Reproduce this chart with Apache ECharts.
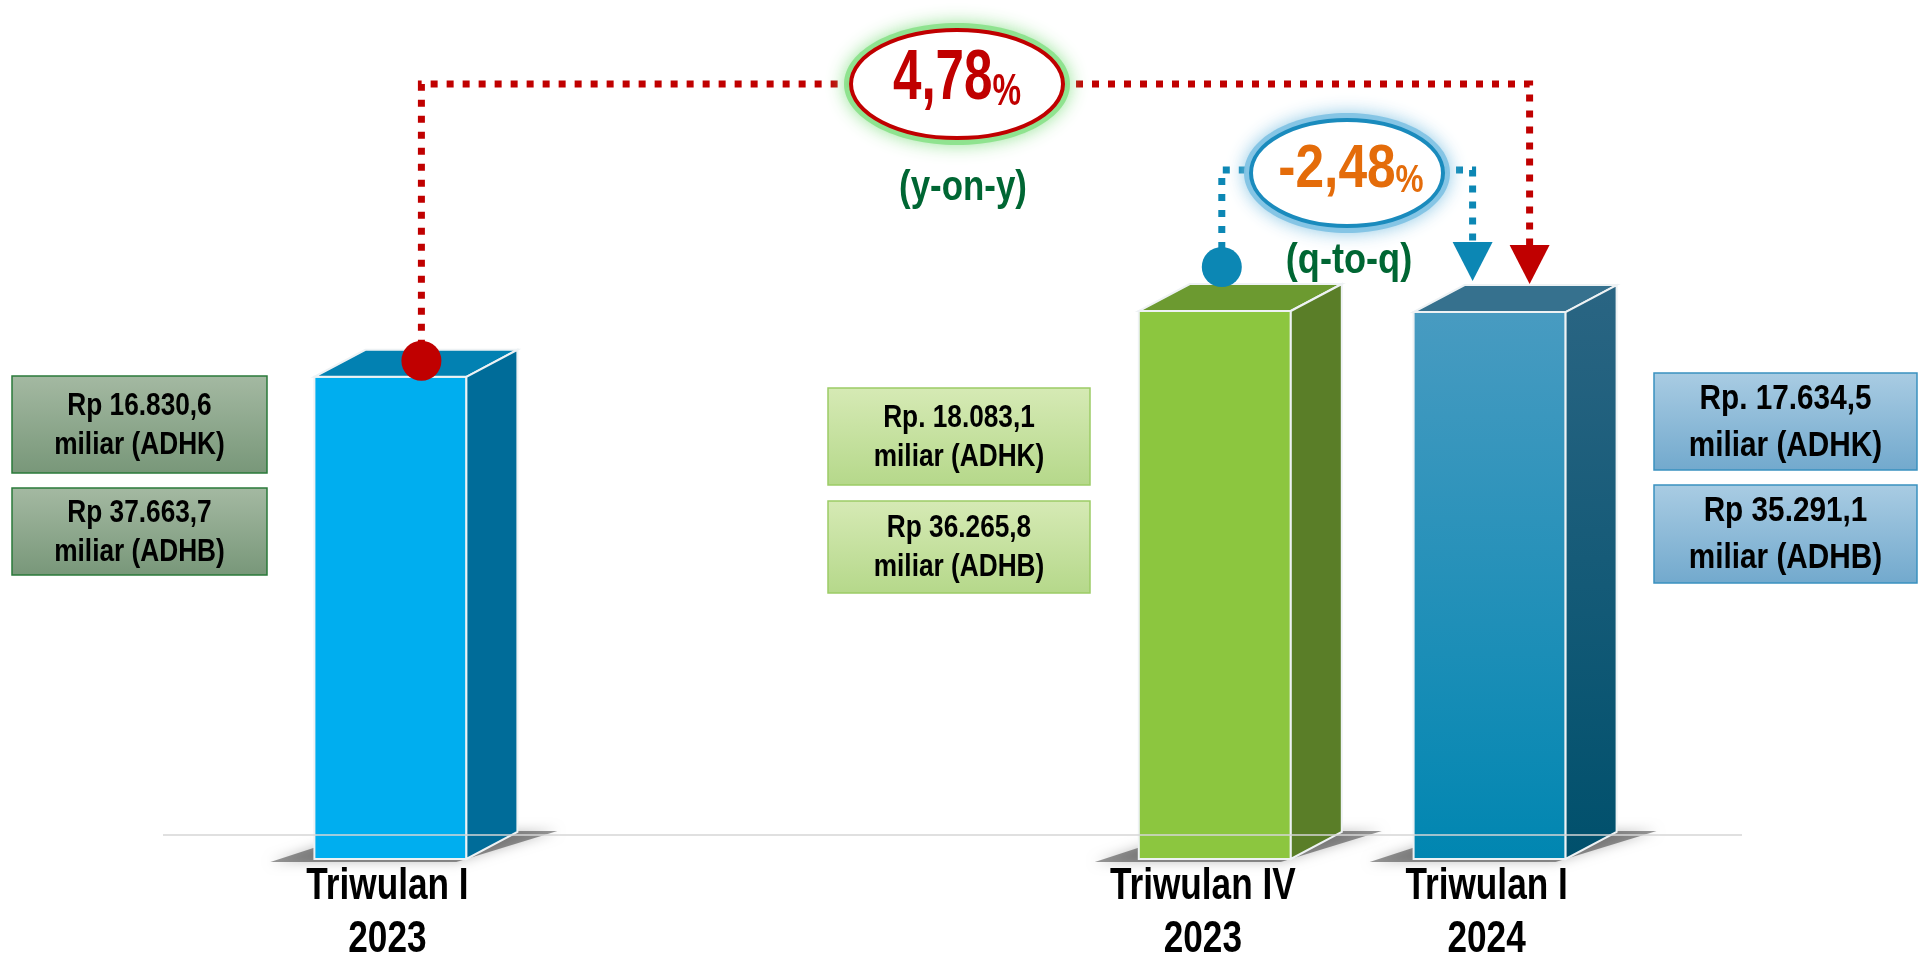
<!DOCTYPE html>
<html>
<head>
<meta charset="utf-8">
<title>PDRB Triwulan I 2024</title>
<script src="https://cdn.jsdelivr.net/npm/echarts@6/dist/echarts.min.js"></script>
<style>
  html, body { margin: 0; padding: 0; background: #fff; }
  #chart { width: 1921px; height: 955px; }
</style>
</head>
<body>
<div id="chart"></div>
<script>
// kategori (slot kosong = jarak antar batang)
const categories = ["Triwulan I\n2023", "", "", "Triwulan IV\n2023", "Triwulan I\n2024"];
// tinggi batang relatif (Triwulan IV 2023 = 100)
const barHeights = [88, null, null, 100, 99.8];
const adhkLabels = ["Rp 16.830,6\nmiliar (ADHK)", null, null, "Rp. 18.083,1\nmiliar (ADHK)", "Rp. 17.634,5\nmiliar (ADHK)"];
const adhbLabels = ["Rp 37.663,7\nmiliar (ADHB)", null, null, "Rp 36.265,8\nmiliar (ADHB)", "Rp 35.291,1\nmiliar (ADHB)"];
const yoyGrowth = "4,78";
const qtqGrowth = "-2,48";

// Liberation Sans dipersempit (scaleX) supaya mirip Arial Narrow
const FONT = "'Liberation Sans', Arial, sans-serif";
const BAR_W = 152, DX = 51, DY = -27;
const EDGE = "#eef2f4";

const barStyles = {
  0: { front: "#00aeef", top: "#0281b2", side: "#006c99" },
  3: { front: "#8cc63f", top: "#6c9a30", side: "#5a7e28" },
  4: {
    front: new echarts.graphic.LinearGradient(0, 0, 0, 1, [
      { offset: 0, color: "#489bc1" }, { offset: 1, color: "#0086b1" }]),
    top: "#36718e",
    side: new echarts.graphic.LinearGradient(0, 0, 0, 1, [
      { offset: 0, color: "#2a6583" }, { offset: 1, color: "#00506c" }])
  }
};

const barData = [];
barHeights.forEach((v, i) => { if (v != null) barData.push([i, v]); });

function renderBox(params, api) {
  const idx = api.value(0);
  const b = api.coord([idx, 0]);
  const t = api.coord([idx, api.value(1)]);
  const x0 = b[0] - BAR_W / 2, x1 = b[0] + BAR_W / 2;
  const yb = b[1], yt = t[1];
  const st = barStyles[idx];
  return {
    type: "group",
    children: [
      {
        type: "polygon",
        shape: { points: [[x0 - 44, yb + 3], [x1 - 10, yb + 3], [x1 + DX + 40, yb + DY - 1], [x0 + DX, yb + DY - 1]] },
        style: { fill: "rgba(0,0,0,0.4)", shadowBlur: 12, shadowColor: "rgba(0,0,0,0.6)" }
      },
      {
        type: "rect",
        shape: { x: x0, y: yt, width: BAR_W, height: yb - yt },
        style: { fill: st.front, stroke: EDGE, lineWidth: 2 }
      },
      {
        type: "polygon",
        shape: { points: [[x0, yt], [x1, yt], [x1 + DX, yt + DY], [x0 + DX, yt + DY]] },
        style: { fill: st.top, stroke: EDGE, lineWidth: 2 }
      },
      {
        type: "polygon",
        shape: { points: [[x1, yt], [x1 + DX, yt + DY], [x1 + DX, yb + DY], [x1, yb]] },
        style: { fill: st.side, stroke: EDGE, lineWidth: 2 }
      },
      {
        type: "text",
        x: b[0] - (idx === 3 ? 12 : 3), y: yb + 1, scaleX: 0.8,
        style: {
          text: categories[idx], x: 0, y: 0, align: "center", verticalAlign: "top",
          fill: "#000", fontSize: 44, fontWeight: "bold", fontFamily: FONT, lineHeight: 53
        }
      }
    ]
  };
}

const chart = echarts.init(document.getElementById("chart"));

chart.setOption({
  backgroundColor: "#fff",
  animation: false,
  grid: { left: 253, right: 294, top: 311, bottom: 96 },
  xAxis: {
    type: "category",
    data: categories,
    axisLine: { show: false },
    axisTick: { show: false },
    axisLabel: { show: false }
  },
  yAxis: { type: "value", min: 0, max: 100, show: false, splitLine: { show: false } },
  series: [{
    type: "custom",
    renderItem: renderBox,
    encode: { x: 0, y: 1 },
    data: barData,
    clip: false,
    z: 2
  }]
});

function infoBox(x, y, w, h, text, top, bottom, border, size, lh, sx) {
  return {
    type: "group",
    x: x, y: y, z: 50,
    children: [
      {
        type: "rect",
        shape: { x: 0, y: 0, width: w, height: h },
        style: {
          fill: new echarts.graphic.LinearGradient(0, 0, 0, 1, [
            { offset: 0, color: top }, { offset: 1, color: bottom }]),
          stroke: border, lineWidth: 1.5
        }
      },
      {
        type: "text",
        x: w / 2, y: h / 2 + 1, scaleX: sx,
        style: {
          text: text, x: 0, y: 0, align: "center", verticalAlign: "middle",
          fill: "#000", fontSize: size, fontWeight: "bold", fontFamily: FONT, lineHeight: lh
        }
      }
    ]
  };
}

function growthText(cx, cy, value, color, big, small, sx) {
  const tok = (s) => ({ fontSize: s, fontWeight: "bold", fontFamily: FONT, fill: color, lineHeight: s, verticalAlign: "bottom" });
  return {
    type: "text", z: 60, x: cx, y: cy, scaleX: sx,
    style: {
      text: "{a|" + value + "}{b|%}", x: 0, y: 0, align: "center", verticalAlign: "middle",
      rich: { a: tok(big), b: tok(small) }
    }
  };
}

function note(cx, cy, text, sx) {
  return {
    type: "text", z: 60, x: cx, y: cy, scaleX: sx,
    style: { text: text, x: 0, y: 0, align: "center", verticalAlign: "middle", fill: "#006633", fontSize: 42, fontWeight: "bold", fontFamily: FONT }
  };
}

function glowEllipse(cx, cy, rx, ry, stroke, glow) {
  return [
    {
      type: "ellipse", z: 54, shape: { cx: cx, cy: cy, rx: rx + 7, ry: ry + 7 },
      style: { fill: glow, shadowBlur: 18, shadowColor: glow }
    },
    {
      type: "ellipse", z: 55, shape: { cx: cx, cy: cy, rx: rx, ry: ry },
      style: { fill: "#fff", stroke: stroke, lineWidth: 4 }
    }
  ];
}

const p1 = chart.convertToPixel({ seriesIndex: 0 }, barData[0]);
const p2 = chart.convertToPixel({ seriesIndex: 0 }, barData[1]);
const p3 = chart.convertToPixel({ seriesIndex: 0 }, barData[2]);
const floorY = chart.convertToPixel({ seriesIndex: 0 }, [0, 0])[1] + DY + 3;

const RED = "#c00000", BLUE = "#0c87b4";
const dash = { lineWidth: 7, lineDash: [7, 9], fill: null };
const yoyY = 84, qtqY = 170;
const redX = p3[0] + 40, blueX = p3[0] - 17;

const graphics = [
  // garis lantai
  { type: "line", z: 40, shape: { x1: 163, y1: floorY, x2: 1742, y2: floorY }, style: { stroke: "#d6d6d6", lineWidth: 1.5 } },

  // y-on-y
  { type: "polyline", z: 30, shape: { points: [[p1[0] + 31, p1[1] - 30], [p1[0] + 31, yoyY], [855, yoyY]] }, style: Object.assign({ stroke: RED }, dash) },
  { type: "polyline", z: 30, shape: { points: [[1060, yoyY], [redX, yoyY], [redX, p3[1] - 66]] }, style: Object.assign({ stroke: RED }, dash) },
  { type: "circle", z: 31, shape: { cx: p1[0] + 31, cy: p1[1] - 16, r: 20 }, style: { fill: RED } },
  { type: "polygon", z: 31, shape: { points: [[redX - 20, p3[1] - 67], [redX + 20, p3[1] - 67], [redX, p3[1] - 28]] }, style: { fill: RED } },
  ...glowEllipse(957, 84, 106, 54, RED, "rgba(140,225,140,0.95)"),
  growthText(957, 80, yoyGrowth, RED, 70, 44, 0.73),
  note(963, 188, "(y-on-y)", 0.83),

  // q-to-q
  { type: "polyline", z: 30, shape: { points: [[p2[0] + 7, p2[1] - 62], [p2[0] + 7, qtqY], [1255, qtqY]] }, style: Object.assign({ stroke: BLUE }, dash) },
  { type: "polyline", z: 30, shape: { points: [[1440, qtqY], [blueX, qtqY], [blueX, p3[1] - 68]] }, style: Object.assign({ stroke: BLUE }, dash) },
  { type: "circle", z: 31, shape: { cx: p2[0] + 7, cy: p2[1] - 44, r: 20 }, style: { fill: BLUE } },
  { type: "polygon", z: 31, shape: { points: [[blueX - 20, p3[1] - 70], [blueX + 20, p3[1] - 70], [blueX, p3[1] - 31]] }, style: { fill: BLUE } },
  ...glowEllipse(1347, 173, 96, 53, "#1a8bbd", "rgba(130,195,228,0.95)"),
  growthText(1351, 170, qtqGrowth, "#e46c0a", 62, 38, 0.83),
  note(1349, 261, "(q-to-q)", 0.86),

  // kotak nilai
  infoBox(12, 376, 255, 97, adhkLabels[0], "#a4b9a2", "#789779", "#2a7a3a", 32, 39, 0.82),
  infoBox(12, 488, 255, 87, adhbLabels[0], "#a4b9a2", "#789779", "#2a7a3a", 32, 39, 0.82),
  infoBox(828, 388, 262, 97, adhkLabels[3], "#d6eab5", "#b5d88a", "#9ccc65", 32, 39, 0.82),
  infoBox(828, 501, 262, 92, adhbLabels[3], "#d6eab5", "#b5d88a", "#9ccc65", 32, 39, 0.82),
  infoBox(1654, 373, 263, 97, adhkLabels[4], "#a9cce3", "#72a9cd", "#3a91c0", 35, 47, 0.85),
  infoBox(1654, 485, 263, 98, adhbLabels[4], "#a9cce3", "#72a9cd", "#3a91c0", 35, 47, 0.85)
];

chart.setOption({ graphic: graphics });
</script>
</body>
</html>
